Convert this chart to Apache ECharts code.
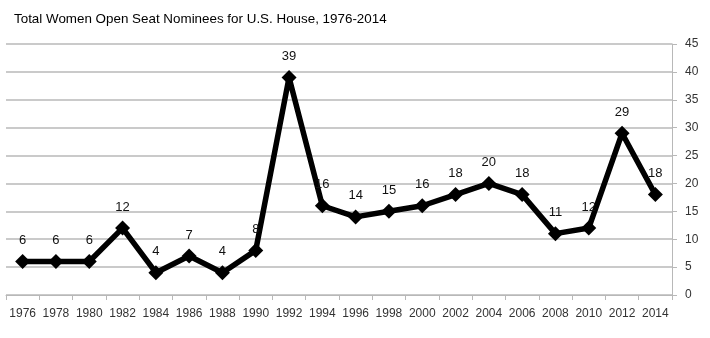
<!DOCTYPE html>
<html><head><meta charset="utf-8">
<script src="https://cdn.jsdelivr.net/npm/echarts@6/dist/echarts.min.js"></script>
<style>html,body{margin:0;padding:0;background:#fff}#c{width:710px;height:338px}</style>
</head><body><div id="c"></div>
<script>
const titleText = 'Total Women Open Seat Nominees for U.S. House, 1976-2014';
const years = ['1976','1978','1980','1982','1984','1986','1988','1990','1992','1994','1996','1998','2000','2002','2004','2006','2008','2010','2012','2014'];
const nominees = [6,6,6,12,4,7,4,8,39,16,14,15,16,18,20,18,11,12,29,18];
const yMin = 0, yMax = 45, yStep = 5;

const chart = echarts.init(document.getElementById('c'), null, {renderer:'canvas'});
const grey = '#b8b8b8';
chart.setOption({
  animation:false,
  title:{text:titleText,left:9,top:8,textStyle:{fontFamily:'Liberation Sans',fontSize:13.4,fontWeight:'normal',color:'#000'}},
  grid:{left:6,right:38,top:44,bottom:43,containLabel:false},
  xAxis:{type:'category',data:years,boundaryGap:true,
    axisLine:{lineStyle:{color:grey,width:1}},
    axisTick:{show:true,length:5,lineStyle:{color:grey}},
    axisLabel:{interval:0,fontFamily:'Liberation Sans',fontSize:12,color:'#333',margin:13},
    splitLine:{show:false}},
  yAxis:{type:'value',position:'right',min:yMin,max:yMax,interval:yStep,
    axisLine:{show:true,lineStyle:{color:grey,width:1}},
    axisTick:{show:true,length:5,lineStyle:{color:grey}},
    axisLabel:{fontFamily:'Liberation Sans',fontSize:12,color:'#333',margin:13},
    splitLine:{show:true,lineStyle:{color:grey,width:1.5}}},
  series:[{type:'line',data:nominees,symbol:'diamond',symbolSize:15,
    lineStyle:{color:'#000',width:5.5},itemStyle:{color:'#000'},
    label:{show:true,position:'top',distance:7,fontFamily:'Liberation Sans',fontSize:13,color:'#111'}}]
});
</script></body></html>
